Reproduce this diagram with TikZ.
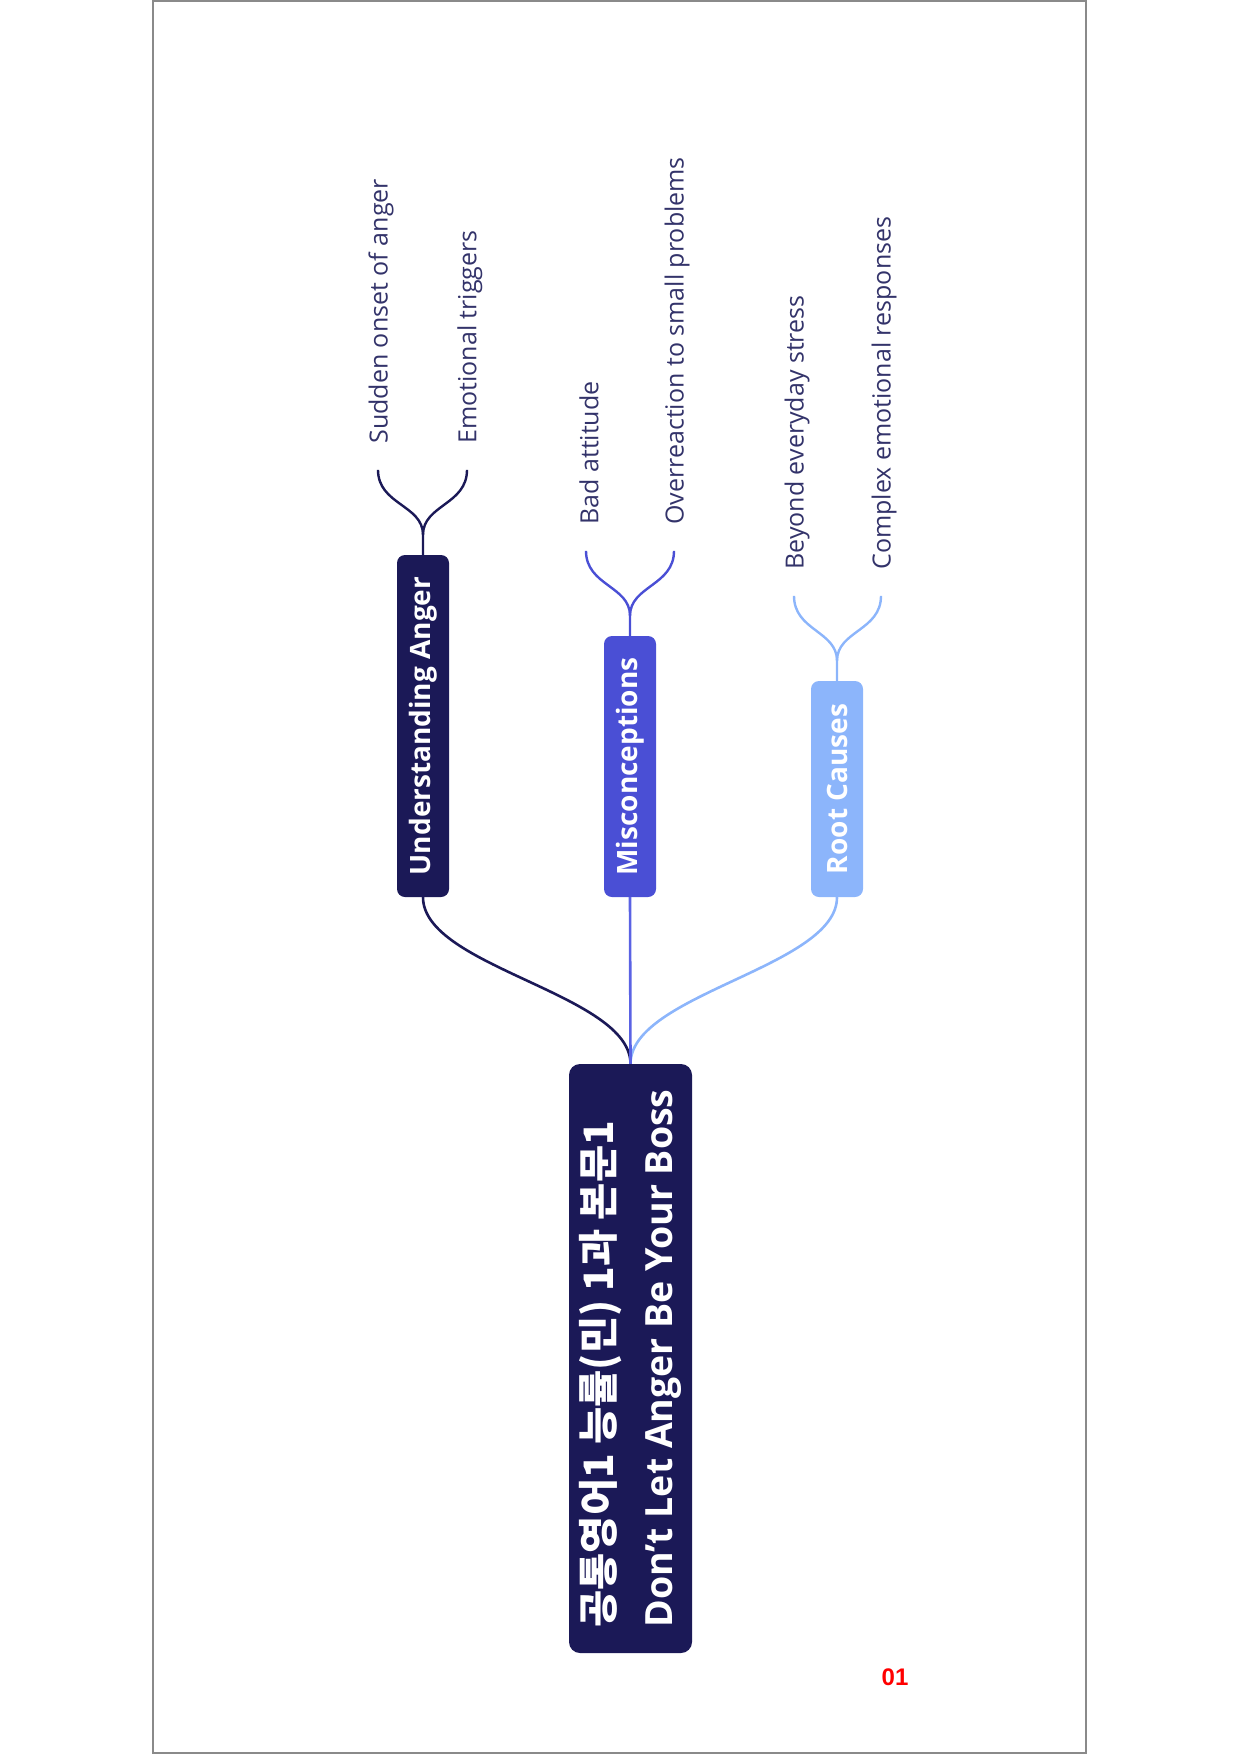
\documentclass[tikz,border=0pt]{standalone}
\usepackage{fontspec}
\setmainfont{Open Sans}
\newfontfamily\kr{Noto Sans CJK KR}
\newfontfamily\numfont{Liberation Sans}
\usetikzlibrary{calc}
\definecolor{navy}{HTML}{1B1957}
\definecolor{mis}{HTML}{4A4FD5}
\definecolor{misline}{HTML}{5A62E4}
\definecolor{rc}{HTML}{8CB5FB}
\definecolor{leaftxt}{HTML}{33336A}
\definecolor{framegray}{HTML}{8A8A8A}
\begin{document}
\begin{tikzpicture}[x=1pt,y=-1pt,
  rootbox/.style={rotate=90, fill=navy, text=white, rounded corners=11pt, minimum width=589pt, minimum height=123pt, align=left, inner sep=0pt, font=\fontsize{37.5}{59}\selectfont\bfseries},
  branchbox/.style={rotate=90, text=white, rounded corners=8pt, minimum height=52pt, inner sep=0pt, font=\fontsize{28}{30}\selectfont\bfseries},
  leaftext/.style={rotate=90, anchor=west, inner sep=0pt, text=leaftxt, font=\fontsize{25}{28}\selectfont},
  link/.style={line width=2.6pt},
  arm/.style={line width=2.4pt},
]
\useasboundingbox (0,0) rectangle (1240,1754);
\draw[framegray, line width=1.5pt] (153,1) rectangle (1086,1753);

\node[rootbox] (root) at (630.5,1358.5) {{\kr\fontsize{40.5}{59}\selectfont 공통영어1 능률(민) 1과 본문1}\\Don't Let Anger Be Your Boss};

\node[branchbox, fill=navy, minimum width=342pt] (ua) at (423,726) {Understanding Anger};
\node[branchbox, fill=mis, minimum width=261pt] (mc) at (630,766.5) {Misconceptions};
\node[branchbox, fill=rc, minimum width=216pt] (rcb) at (837,789) {Root Causes};

\draw[link, navy] (root.east) .. controls +(0,-70) and +(0,70) .. (ua.west);
\draw[link, rc] (root.east) .. controls +(0,-70) and +(0,70) .. (rcb.west);
\draw[link, misline] (root.east) -- (mc.west);

% Understanding Anger leaves
\coordinate (uaf) at ($(ua.east)+(0,-20)$);
\coordinate (ua1) at ($(ua.east)+(-45,-85)$);
\coordinate (ua2) at ($(ua.east)+(44,-85)$);
\draw[arm, navy] (ua.east) -- (uaf) .. controls +(0,-30) and +(0,35) .. (ua1);
\draw[arm, navy] (uaf) .. controls +(0,-30) and +(0,35) .. (ua2);
\node[leaftext] (uat1) at ($(ua1)+(3,-26)$) {Sudden onset of anger};
\node[leaftext] (uat2) at ($(ua2)+(3,-26)$) {Emotional triggers};

% Misconceptions leaves
\coordinate (mcf) at ($(mc.east)+(0,-20)$);
\coordinate (mc1) at ($(mc.east)+(-44,-85)$);
\coordinate (mc2) at ($(mc.east)+(44,-85)$);
\draw[arm, mis] (mc.east) -- (mcf) .. controls +(0,-30) and +(0,35) .. (mc1);
\draw[arm, mis] (mcf) .. controls +(0,-30) and +(0,35) .. (mc2);
\node[leaftext] (mct1) at ($(mc1)+(3,-26)$) {Bad attitude};
\node[leaftext] (mct2) at ($(mc2)+(3,-26)$) {Overreaction to small problems};

% Root Causes leaves
\coordinate (rcf) at ($(rcb.east)+(0,-20)$);
\coordinate (rc1) at ($(rcb.east)+(-43,-85)$);
\coordinate (rc2) at ($(rcb.east)+(44,-85)$);
\draw[arm, rc] (rcb.east) -- (rcf) .. controls +(0,-30) and +(0,35) .. (rc1);
\draw[arm, rc] (rcf) .. controls +(0,-30) and +(0,35) .. (rc2);
\node[leaftext] (rct1) at ($(rc1)+(3,-26)$) {Beyond everyday stress};
\node[leaftext] (rct2) at ($(rc2)+(3,-26)$) {Complex emotional responses};

\node[text=red, font=\numfont\bfseries\fontsize{24}{24}\selectfont] (pg) at (895,1677) {01};
\end{tikzpicture}
\end{document}
